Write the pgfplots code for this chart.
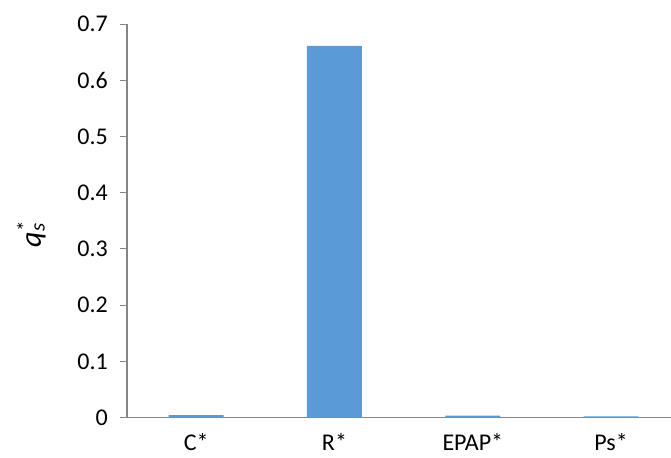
\documentclass[border=0pt]{standalone}
\usepackage{pgfplots}
\pgfplotsset{compat=1.18}
\usepackage{fontspec}
\setmainfont{Carlito}
\definecolor{barblue}{HTML}{5B9BD5}
\definecolor{axgray}{HTML}{868686}
\begin{document}
\fontsize{24bp}{28bp}\selectfont
\begin{tikzpicture}
\path[use as bounding box] (0,0) rectangle (671bp,458bp);
\begin{axis}[
  at={(127bp,40.3bp)}, anchor=south west,
  scale only axis,
  width=544bp, height=393.7bp,
  xmin=-0.5, xmax=3.433,
  ymin=0, ymax=0.7,
  axis x line*=bottom, axis y line*=left,
  axis line style={axgray, line width=1.1bp},
  every tick/.style={axgray, line width=1bp},
  tick align=outside,
  ytick={0,0.1,0.2,0.3,0.4,0.5,0.6,0.7},
  yticklabels={0,0.1,0.2,0.3,0.4,0.5,0.6,0.7},
  major tick length=7bp,
  xtick={0,1,2,3},
  xticklabels={C*,R*,EPAP*,Ps*},
  x tick style={draw=none},
  minor xtick={-0.5,0.5,1.5,2.5},
  minor tick length=8bp,
  minor x tick style={axgray, line width=1bp},
  xticklabel style={inner sep=0pt, yshift=-9bp},
  yticklabel style={xshift=-4bp},
  ticklabel style={font=\fontsize{24bp}{28bp}\selectfont},
  /pgf/number format/assume math mode=true,
  ylabel={\textit{q}\rlap{\textsubscript{\textit{s}}}\textsuperscript{*}},
  ylabel style={font=\fontsize{30bp}{34bp}\selectfont, at={(axis description cs:-0.176,0.467)}, anchor=center},
  clip=false,
]
\addplot[ybar, bar width=55bp, fill=barblue, draw=none] coordinates {
  (0,0.0045) (1,0.661) (2,0.0035) (3,0.0025)
};
\end{axis}
\end{tikzpicture}
\end{document}
